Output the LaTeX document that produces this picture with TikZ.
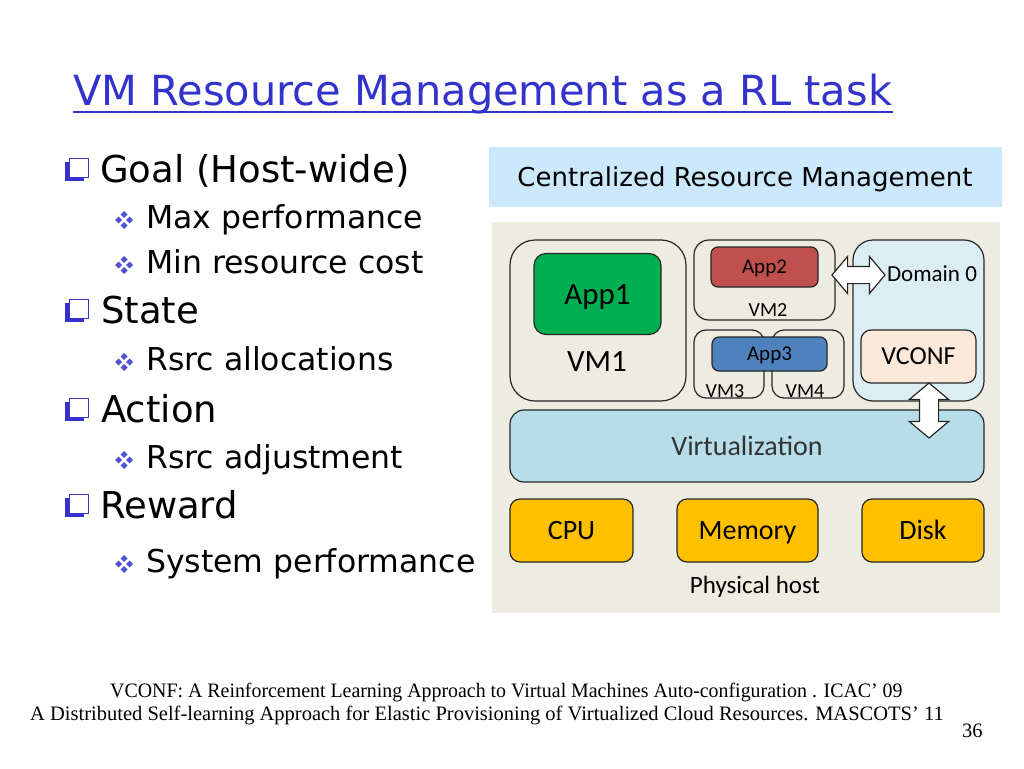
\documentclass[tikz,border=0pt]{standalone}
\usepackage{fontspec}
\setmainfont{Carlito}
\newfontfamily\slidefont{DejaVu Sans}
\newfontfamily\reffont{Liberation Serif}
\usetikzlibrary{shapes.arrows}

\definecolor{titleblue}{RGB}{51,51,204}
\definecolor{headblue}{RGB}{204,232,252}
\definecolor{hostbg}{RGB}{238,236,225}
\definecolor{appgreen}{RGB}{0,176,80}
\definecolor{appred}{RGB}{192,80,77}
\definecolor{appblue}{RGB}{79,129,189}
\definecolor{domblue}{RGB}{218,238,243}
\definecolor{vconfpink}{RGB}{253,233,217}
\definecolor{virtblue}{RGB}{183,221,232}
\definecolor{hwyellow}{RGB}{255,192,0}

\begin{document}
\begin{tikzpicture}[x=1pt,y=-1pt,
    caps/.style={text height=#1, text depth=0pt},
    vmbox/.style={draw=black!85, line width=1.2pt, fill=hostbg, inner sep=0pt},
    appbox/.style={draw=black!85, line width=1.2pt, rounded corners=7pt, inner sep=0pt},
    hwbox/.style={draw=black!85, line width=1.2pt, fill=hwyellow, rounded corners=10pt,
        minimum height=63pt, inner sep=0pt, caps=18pt, font=\fontsize{28}{28}\selectfont},
    dblarrow/.style={double arrow, draw=black!85, line width=1.2pt, fill=white, inner xsep=0pt,
        double arrow head extend=10pt, double arrow tip angle=100},
    bigitem/.style={anchor=base west, font=\slidefont\fontsize{37}{37}\selectfont},
    smallitem/.style={anchor=base west, font=\slidefont\fontsize{31.5}{31.5}\selectfont},
    refline/.style={anchor=base west, inner sep=0pt, font=\reffont\fontsize{20.5}{20.5}\selectfont}]

    % Fix the page
    \useasboundingbox[fill=white] (0,0) rectangle (1024,768);

    % Draw the title
    \node[anchor=base west, inner sep=0pt, text=titleblue, font=\slidefont\fontsize{41.5}{41.5}\selectfont]
        (title) at (73,105) {VM Resource Management as a RL task};
    \draw[titleblue, line width=2pt] (73,112) -- (893,112);

    % Draw the bullets
    \foreach \y in {181,322,421,517}{
        \fill[titleblue] (65,162) ++(0,\y-181) rectangle ++(19,19);
        \filldraw[fill=white, draw=titleblue, line width=0.8pt] (69,158) ++(0,\y-181) rectangle ++(19,19);
    }
    \foreach \y in {220,265,362,460,564}{
        \foreach \dx/\dy in {-5.5/0,5.5/0,0/-5.5,0/5.5}
            \fill[titleblue!85!white] (120.7+\dx,\y+\dy) -- ++(3.5,-3.5) -- ++(3.5,3.5) -- ++(-3.5,3.5) -- cycle;
    }

    % Draw the items
    \node[bigitem, inner sep=0pt] (goal) at (100,182) {Goal (Host-wide)};
    \node[smallitem, inner sep=0pt] (maxperf) at (146,228) {Max performance};
    \node[smallitem, inner sep=0pt] (mincost) at (146,273) {Min resource cost};
    \node[bigitem, inner sep=0pt] (state) at (101,323) {State};
    \node[smallitem, inner sep=0pt] (alloc) at (146,370) {Rsrc allocations};
    \node[bigitem, inner sep=0pt] (action) at (101,422) {Action};
    \node[smallitem, inner sep=0pt] (adjust) at (146,468) {Rsrc adjustment};
    \node[bigitem, inner sep=0pt] (reward) at (100,518) {Reward};
    \node[smallitem, inner sep=0pt] (sysperf) at (146,572) {System performance};

    % Draw the header and the host
    \node[fill=headblue, minimum width=513pt, minimum height=60pt, inner sep=0pt, caps=19pt,
        font=\slidefont\fontsize{26}{26}\selectfont] (head) at (745,177) {Centralized Resource Management};
    \node[fill=hostbg, minimum width=508pt, minimum height=391pt, inner sep=0pt] (host) at (746,417.5) {};

    % Draw the virtual machines
    \node[vmbox, rounded corners=25pt, minimum width=176pt, minimum height=161pt] (vm1) at (598,320.5) {};
    \node[appbox, fill=appgreen, rounded corners=12pt, minimum width=127pt, minimum height=81pt,
        caps=20pt, font=\fontsize{31}{31}\selectfont] (app1) at (597.5,294) {App1};
    \node[caps=20pt, font=\fontsize{31}{31}\selectfont] (vm1l) at (597,361) {VM1};

    \node[vmbox, rounded corners=15pt, minimum width=141pt, minimum height=80pt] (vm2) at (764.5,280) {};
    \node[appbox, fill=appred, minimum width=107pt, minimum height=40pt,
        caps=13.5pt, font=\fontsize{21}{21}\selectfont] (app2) at (764.5,267) {App2};
    \node[caps=12.9pt, font=\fontsize{20}{20}\selectfont] (vm2l) at (768,310) {VM2};

    \node[vmbox, rounded corners=12pt, minimum width=70pt, minimum height=68pt] (vm3) at (729,364) {};
    \node[vmbox, rounded corners=12pt, minimum width=72pt, minimum height=68pt] (vm4) at (808,364) {};
    \node[appbox, fill=appblue, minimum width=115pt, minimum height=34pt,
        caps=13.5pt, font=\fontsize{21}{21}\selectfont] (app3) at (769.5,354) {App3};
    \node[font=\fontsize{20}{20}\selectfont, anchor=base] (vm3l) at (725,397) {VM3};
    \node[font=\fontsize{20}{20}\selectfont, anchor=base] (vm4l) at (805,397) {VM4};

    % Draw the domain 0
    \node[vmbox, fill=domblue, rounded corners=20pt, minimum width=131pt, minimum height=161pt] (dom0) at (918.5,320.5) {};
    \node[caps=14.8pt, font=\fontsize{23}{23}\selectfont] (dom0l) at (932,274) {Domain 0};
    \node[appbox, fill=vconfpink, rounded corners=10pt, minimum width=115pt, minimum height=53pt,
        caps=16.7pt, font=\fontsize{26}{26}\selectfont] (vconf) at (918.5,356.5) {VCONF};

    % Draw the virtualization layer
    \node[vmbox, fill=virtblue, rounded corners=14pt, minimum width=474pt, minimum height=72pt,
        caps=18pt, font=\fontsize{28}{28}\selectfont, text=black!80] (virt) at (747,446) {Virtualization};

    % Draw the hardware
    \node[hwbox, minimum width=123pt] (cpu) at (571.5,530.5) {CPU};
    \node[hwbox, minimum width=141pt] (mem) at (747.5,530.5) {Memory};
    \node[hwbox, minimum width=122pt] (disk) at (923,530.5) {Disk};
    \node[caps=16pt, font=\fontsize{25}{25}\selectfont] (hostl) at (755,585) {Physical host};

    % Draw the arrows
    \node[dblarrow, inner ysep=8pt, minimum height=53pt] (arrh) at (858.5,275) {};
    \node[dblarrow, rotate=90, inner ysep=9pt, minimum height=55pt] (arrv) at (929,410.5) {};

    % Draw the references
    \node[refline, xscale=0.97] (ref1) at (110,697)
        {VCONF: A Reinforcement Learning Approach to Virtual Machines Auto-configuration . ICAC’ 09};
    \node[refline] (ref2) at (30,720)
        {A Distributed Self-learning Approach for Elastic Provisioning of Virtualized Cloud Resources. MASCOTS’ 11};
    \node[refline] (page) at (962,737) {36};
\end{tikzpicture}
\end{document}
